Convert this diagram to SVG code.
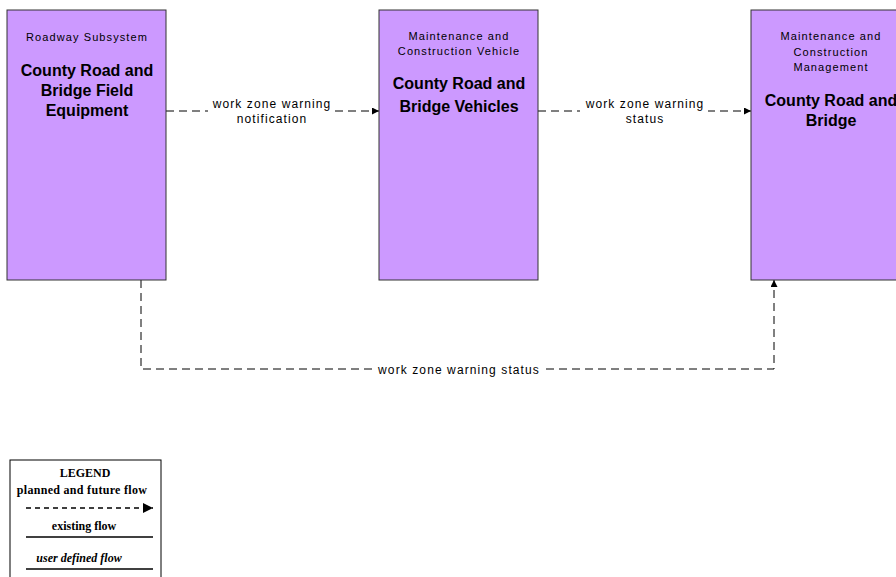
<svg xmlns="http://www.w3.org/2000/svg" width="896" height="577" viewBox="0 0 896 577">
<defs>
<marker id="ah" viewBox="0 0 10 10" refX="10" refY="5" markerWidth="8" markerHeight="7" markerUnits="userSpaceOnUse" orient="auto"><path d="M0,0 L10,5 L0,10 z" fill="#000"/></marker>
<marker id="ahL" viewBox="0 0 10 10" refX="10" refY="5" markerWidth="12" markerHeight="10" markerUnits="userSpaceOnUse" orient="auto"><path d="M0,0 L10,5 L0,10 z" fill="#000"/></marker>
<style>
.box{fill:#cc99ff;stroke:#333;stroke-width:1}
.sub{font-family:"Liberation Sans",Arial,sans-serif;font-size:11px;letter-spacing:1.1px;fill:#000;text-anchor:middle}
.ttl{font-family:"Liberation Sans",Arial,sans-serif;font-size:16px;font-weight:bold;fill:#000;text-anchor:middle}
.flow{fill:none;stroke:#000;stroke-width:1;stroke-dasharray:8,5}
.lbl{font-family:"Liberation Sans",Arial,sans-serif;font-size:12px;letter-spacing:1.1px;fill:#000;text-anchor:middle}
.bg{fill:#fff}
.lg{font-family:"Liberation Serif","Times New Roman",serif;font-size:12px;font-weight:bold;fill:#000;text-anchor:middle}
</style>
</defs>
<rect width="896" height="577" fill="#fff"/>
<g id="connectors">
<path class="flow" d="M166,111 H379" marker-end="url(#ah)"/>
<rect class="bg" x="208" y="97" width="127" height="29"/>
<text class="lbl" x="272" y="108">work zone warning</text>
<text class="lbl" x="272" y="123">notification</text>
<path class="flow" d="M538,111 H751" marker-end="url(#ah)"/>
<rect class="bg" x="580" y="97" width="128" height="29"/>
<text class="lbl" x="645" y="108">work zone warning</text>
<text class="lbl" x="645" y="123">status</text>
<path class="flow" d="M141,280 V369 H774 V280" marker-end="url(#ah)"/>
<rect class="bg" x="374" y="362" width="170" height="15"/>
<text class="lbl" x="459" y="374">work zone warning status</text>
</g>
<g id="node-field-equipment">
<rect class="box" x="7" y="10" width="159" height="270"/>
<text class="sub" x="87" y="41">Roadway Subsystem</text>
<text class="ttl" x="87" y="76">County Road and</text>
<text class="ttl" x="87" y="96">Bridge Field</text>
<text class="ttl" x="87" y="116">Equipment</text>
</g>
<g id="node-vehicles">
<rect class="box" x="379" y="10" width="159" height="270"/>
<text class="sub" x="459" y="40">Maintenance and</text>
<text class="sub" x="459" y="55">Construction Vehicle</text>
<text class="ttl" x="459" y="89">County Road and</text>
<text class="ttl" x="459" y="112">Bridge Vehicles</text>
</g>
<g id="node-management">
<rect class="box" x="751" y="10" width="160" height="270"/>
<text class="sub" x="831" y="40">Maintenance and</text>
<text class="sub" x="831" y="56">Construction</text>
<text class="sub" x="831" y="71">Management</text>
<text class="ttl" x="831" y="106">County Road and</text>
<text class="ttl" x="831" y="126">Bridge</text>
</g>
<g id="legend">
<rect x="10" y="460" width="151" height="130" fill="#fff" stroke="#000" stroke-width="1"/>
<text class="lg" x="85" y="477">LEGEND</text>
<text class="lg" x="82" y="494" letter-spacing="0.3">planned and future flow</text>
<path d="M26,508 H153" fill="none" stroke="#000" stroke-width="1.5" stroke-dasharray="5,4" marker-end="url(#ahL)"/>
<text class="lg" x="84" y="530">existing flow</text>
<path d="M26,537 H153" stroke="#000" stroke-width="1.5"/>
<text class="lg" x="79" y="562" font-style="italic">user defined flow</text>
<path d="M26,569 H153" stroke="#000" stroke-width="1.5"/>
</g>
</svg>
